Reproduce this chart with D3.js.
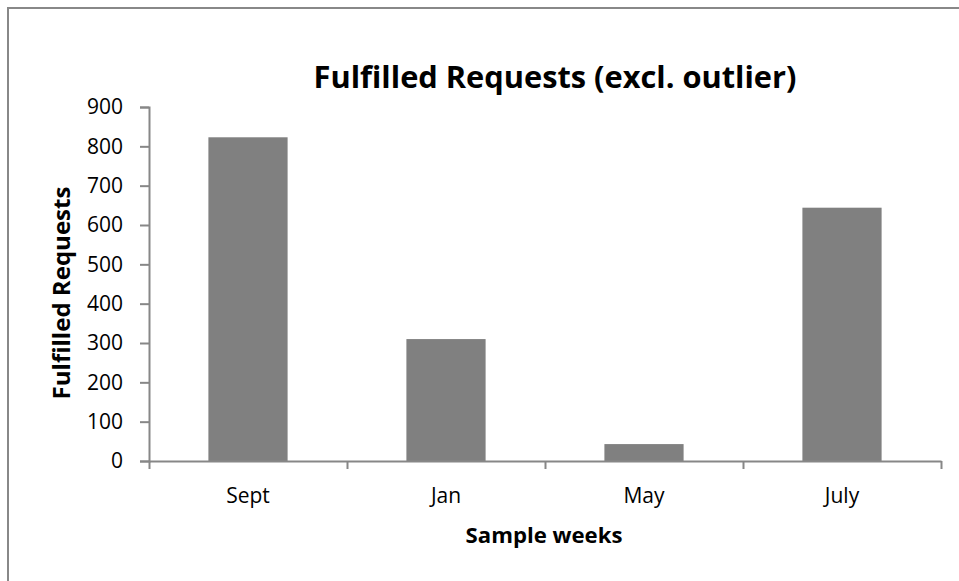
<!DOCTYPE html>
<html>
<head>
<meta charset="utf-8">
<script src="https://cdn.jsdelivr.net/npm/d3@7"></script>
<style>
  body { margin: 0; background: #fff; }
  svg text { font-family: "Open Sans", "Noto Sans", sans-serif; fill: #000; }
</style>
</head>
<body>
<div id="chart"></div>
<script>
// chart values
const weeks = ["Sept", "Jan", "May", "July"];
const requests = [823, 310, 43, 644];
const yTicks = [0, 100, 200, 300, 400, 500, 600, 700, 800, 900];

const svgWidth = 959;
const svgHeight = 581;

// plot box in page pixels
const plot = { left: 149, right: 941, top: 107, bottom: 461 };
const axisColor = "#878787";

const svg = d3.select("#chart")
  .append("svg")
  .attr("width", svgWidth)
  .attr("height", svgHeight);

// outer chart border (only top and left edges show in the frame)
svg.append("rect")
  .attr("x", 8)
  .attr("y", 8)
  .attr("width", svgWidth + 20)
  .attr("height", svgHeight + 20)
  .attr("fill", "none")
  .attr("stroke", "#888")
  .attr("stroke-width", 2);

// scales
const x = d3.scaleBand()
  .domain(weeks)
  .range([plot.left, plot.right])
  .paddingInner(0.6)
  .paddingOuter(0.3);

const y = d3.scaleLinear()
  .domain([0, 900])
  .range([plot.bottom, plot.top]);

// bars
svg.append("g")
  .selectAll("rect")
  .data(weeks)
  .enter()
  .append("rect")
  .attr("x", d => x(d))
  .attr("y", (d, i) => y(requests[i]))
  .attr("width", x.bandwidth())
  .attr("height", (d, i) => y(0) - y(requests[i]))
  .attr("fill", "#808080");

// y axis
const yAxis = svg.append("g")
  .attr("transform", `translate(${plot.left},0)`)
  .call(d3.axisLeft(y).tickValues(yTicks).tickSize(9).tickPadding(17));

// x axis: boundary ticks between categories
const edges = d3.scaleLinear().domain([0, weeks.length]).range([plot.left, plot.right]);
const xEdges = svg.append("g")
  .attr("transform", `translate(0,${plot.bottom})`)
  .call(d3.axisBottom(edges).tickValues(d3.range(weeks.length + 1)).tickFormat("").tickSize(8).tickSizeOuter(0));

// x axis: category labels
const xAxis = svg.append("g")
  .attr("transform", `translate(0,${plot.bottom})`)
  .call(d3.axisBottom(x).tickSize(0).tickPadding(27));
xAxis.select(".domain").remove();

[yAxis, xEdges].forEach(g => {
  g.selectAll("path, line").attr("stroke", axisColor).attr("stroke-width", 2);
});
[yAxis, xAxis].forEach(g => {
  g.selectAll("text").attr("font-size", 21).attr("font-family", "'Open Sans', sans-serif").attr("fill", "#000");
});

// fit a label's font size to the width measured on the picture
function fitText(sel, targetWidth, startSize) {
  sel.attr("font-size", startSize);
  const w = sel.node().getComputedTextLength();
  sel.attr("font-size", startSize * targetWidth / w);
}

// title
const title = svg.append("text")
  .attr("x", 555)
  .attr("y", 88)
  .attr("text-anchor", "middle")
  .attr("font-weight", "bold")
  .text("Fulfilled Requests (excl. outlier)");
fitText(title, 483, 30);

// axis titles
const xTitle = svg.append("text")
  .attr("x", 544)
  .attr("y", 543)
  .attr("text-anchor", "middle")
  .attr("font-weight", "bold")
  .text("Sample weeks");
fitText(xTitle, 157, 20);

const yTitle = svg.append("text")
  .attr("transform", "translate(70,293) rotate(-90)")
  .attr("text-anchor", "middle")
  .attr("font-weight", "bold")
  .text("Fulfilled Requests");
fitText(yTitle, 213, 20);
</script>
</body>
</html>
